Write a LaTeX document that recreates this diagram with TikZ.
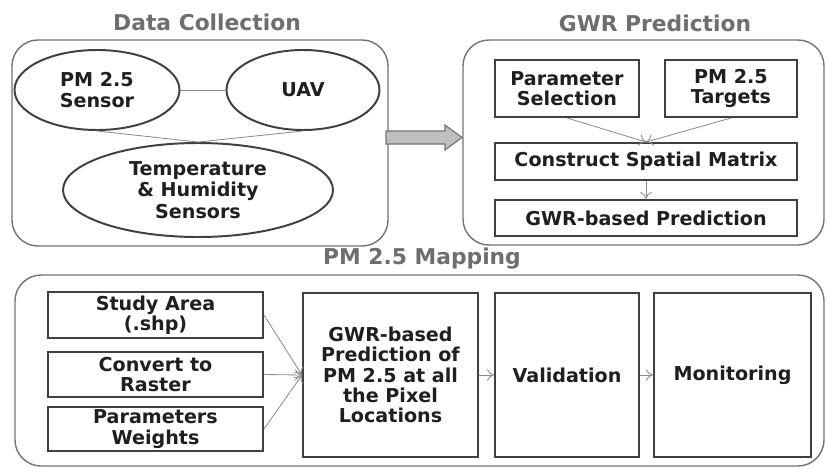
\documentclass[tikz,border=0pt]{standalone}
\usepackage{fontspec}
\setmainfont{DejaVu Sans}
\usetikzlibrary{shapes.geometric,arrows.meta}

\newcommand{\px}{0.025cm}

\begin{document}
\begin{tikzpicture}[x=0.025cm,y=-0.025cm,
    group/.style={draw=black!55,line width=1pt,rounded corners=0.65cm},
    title/.style={text=black!57,font=\bfseries\fontsize{15.5}{18}\selectfont},
    box/.style={draw=black!75,line width=1.4pt,align=center,inner sep=0pt,
      font=\bfseries\fontsize{13.6}{14.5}\selectfont,text=black!88},
    oval/.style={box,ellipse},
    link/.style={draw=black!45,line width=0.6pt},
    flow/.style={link,-{To[length=5pt,width=8pt]}}]
  \useasboundingbox (0,0) rectangle (827,468);

  % group frames
  \draw[group] (12,40) rectangle (388,246);
  \draw[group] (463,40) rectangle (824,245);
  \draw[group] (15,275) rectangle (824,466);

  \node[title] (tdata) at (207,22) {Data Collection};
  \node[title] (tgwr) at (655,23) {GWR Prediction};
  \node[title] (tmap) at (422,259) {PM 2.5 Mapping};

  % data collection
  \node[oval,minimum width=165*\px,minimum height=80*\px] (pms) at (97,90) {PM 2.5\\Sensor};
  \node[oval,minimum width=153*\px,minimum height=80*\px] (uav) at (303,90) {UAV};
  \node[oval,minimum width=270*\px,minimum height=94*\px,
    font=\bfseries\fontsize{13.6}{15.5}\selectfont] (temp) at (198,190) {Temperature\\\& Humidity\\Sensors};
  \draw[link] (pms) -- (uav);
  \draw[link] (pms.south) -- (temp.north);
  \draw[link] (uav.south) -- (temp.north);

  % big arrow between the upper groups
  \filldraw[fill=black!25,draw=black!55,line width=0.8pt]
    (386,131) -- (445,131) -- (445,125) -- (462,137.5) -- (445,150) -- (445,144) -- (386,144) -- cycle;

  % gwr prediction
  \node[box,minimum width=144*\px,minimum height=57*\px] (psel) at (567,88.5) {Parameter\\Selection};
  \node[box,minimum width=132*\px,minimum height=57*\px] (ptgt) at (731,88.5) {PM 2.5\\Targets};
  \node[box,minimum width=302*\px,minimum height=37*\px] (csm) at (646,161.5) {Construct Spatial Matrix};
  \node[box,minimum width=302*\px,minimum height=36*\px] (gwrp) at (646,218) {GWR-based Prediction};
  \draw[flow] (psel.south) -- (csm.north);
  \draw[flow] (ptgt.south) -- (csm.north);
  \draw[flow] (csm) -- (gwrp);

  % pm 2.5 mapping
  \node[box,minimum width=215*\px,minimum height=46*\px] (study) at (155.5,315) {Study Area\\(.shp)};
  \node[box,minimum width=215*\px,minimum height=45*\px] (raster) at (155.5,374.5) {Convert to\\Raster};
  \node[box,minimum width=215*\px,minimum height=44*\px] (weights) at (155.5,429) {Parameters\\Weights};
  \node[box,minimum width=175*\px,minimum height=164*\px] (pred) at (390.5,375) {GWR-based\\Prediction of\\PM 2.5 at all\\the Pixel\\Locations};
  \node[box,minimum width=144*\px,minimum height=164*\px] (valid) at (567,375) {Validation};
  \node[box,minimum width=157*\px,minimum height=164*\px] (monit) at (732.5,375) {Monitoring};
  \draw[flow] (study.east) -- (pred.west);
  \draw[flow] (raster.east) -- (pred.west);
  \draw[flow] (weights.east) -- (pred.west);
  \draw[flow] (pred) -- (valid);
  \draw[flow] (valid) -- (monit);
\end{tikzpicture}
\end{document}
